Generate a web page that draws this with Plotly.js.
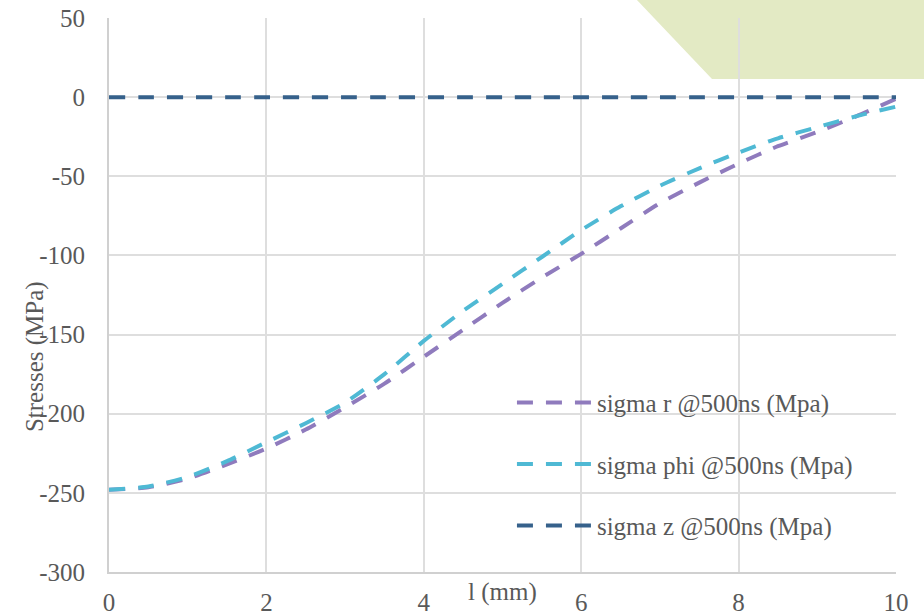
<!DOCTYPE html>
<html>
<head>
<meta charset="utf-8">
<script src="https://cdn.plot.ly/plotly-3.0.1.min.js"></script>
<style>
  html, body { margin: 0; padding: 0; background: #ffffff; }
  #chart { width: 924px; height: 616px; }
</style>
</head>
<body>
<div id="chart"></div>
<script>
// Position along the specimen (mm)
const positions = [0, 0.5, 1, 1.5, 2, 2.5, 3, 3.5, 4, 4.5, 5, 5.5, 6, 6.5, 7, 7.5, 8, 8.5, 9, 9.5, 10];

// Stress components at t = 500 ns (MPa)
const sigmaR   = [-248, -246.5, -241, -232, -222, -210, -196, -181, -164, -147, -130, -114, -99, -83, -67, -54, -42, -31, -22, -12, -1];
const sigmaPhi = [-248, -246, -240, -230, -218, -206, -193, -175, -154, -135, -118, -101, -84, -69, -56, -45, -35, -26, -19, -12, -6];
const sigmaZ   = [0, 0, 0, 0, 0, 0, 0, 0, 0, 0, 0, 0, 0, 0, 0, 0, 0, 0, 0, 0, 0];

const seriesNames = ['sigma r @500ns (Mpa)', 'sigma phi @500ns (Mpa)', 'sigma z @500ns (Mpa)'];
const seriesColors = ['#8f7bbd', '#4fb9d4', '#36618b'];

const xTicks = [0, 2, 4, 6, 8, 10];
const yTicks = [-300, -250, -200, -150, -100, -50, 0, 50];

const FONT = 'Liberation Serif, Times New Roman, serif';
const TEXT_GREY = '#595959';
const FS = 25;

function dashed(y, i) {
  return {
    x: positions,
    y: y,
    type: 'scatter',
    mode: 'lines',
    name: seriesNames[i],
    legendgroup: 'g' + i,
    line: { color: seriesColors[i], width: 4, dash: '16px,13px', shape: 'spline', smoothing: 0.6 },
    hoverinfo: 'x+y+name'
  };
}

const data = [dashed(sigmaR, 0), dashed(sigmaPhi, 1), dashed(sigmaZ, 2)];

const layout = {
  width: 924,
  height: 616,
  margin: { l: 109, r: 28, t: 18, b: 44, pad: 0 },
  paper_bgcolor: '#ffffff',
  plot_bgcolor: 'rgba(0,0,0,0)',
  font: { family: FONT, size: FS, color: TEXT_GREY },
  showlegend: true,
  legend: {
    x: 0.512, y: 0.347, xanchor: 'left', yanchor: 'top',
    bgcolor: 'rgba(0,0,0,0)',
    font: { family: FONT, size: FS, color: TEXT_GREY },
    tracegroupgap: 26,
    itemwidth: 75,
    traceorder: 'grouped'
  },
  xaxis: {
    range: [0, 10],
    tickvals: xTicks,
    ticktext: xTicks.map(String),
    showgrid: true, gridcolor: '#dedede', gridwidth: 2,
    zeroline: false,
    showline: true, linecolor: '#d0d0d0', linewidth: 2,
    ticks: '', ticklabelstandoff: 7,
    tickfont: { family: FONT, size: FS, color: TEXT_GREY },
    fixedrange: true
  },
  yaxis: {
    range: [-300, 50],
    tickvals: yTicks,
    ticktext: yTicks.map(String),
    showgrid: true, gridcolor: '#dedede', gridwidth: 2,
    zeroline: false,
    showline: true, linecolor: '#d0d0d0', linewidth: 2,
    ticks: '', ticklabelstandoff: 17,
    tickfont: { family: FONT, size: FS, color: TEXT_GREY },
    fixedrange: true
  },
  shapes: [{
    type: 'path', xref: 'paper', yref: 'paper', layer: 'below',
    path: 'M0.6658,1.04 L0.7662,0.8899 L1.05,0.8899 L1.05,1.04 Z',
    fillcolor: '#e3eac4', line: { width: 0 }
  }],
  annotations: [
    {
      text: 'Stresses (MPa)', xref: 'paper', yref: 'paper',
      x: -0.094, y: 0.388, xanchor: 'center', yanchor: 'middle',
      textangle: -90, showarrow: false,
      font: { family: FONT, size: FS, color: TEXT_GREY }
    },
    {
      text: 'l (mm)', xref: 'paper', yref: 'paper',
      x: 0.5006, y: -0.036, xanchor: 'center', yanchor: 'middle',
      showarrow: false,
      font: { family: FONT, size: FS, color: TEXT_GREY }
    }
  ]
};

Plotly.newPlot('chart', data, layout, { staticPlot: true, displayModeBar: false });
</script>
</body>
</html>
